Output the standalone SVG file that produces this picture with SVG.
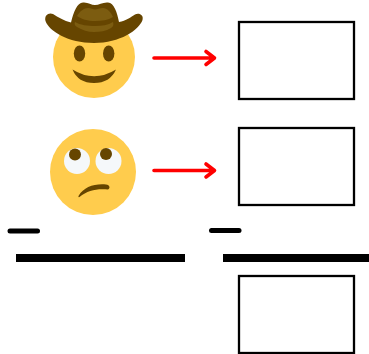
<svg xmlns="http://www.w3.org/2000/svg" width="369" height="354" viewBox="0 0 369 354">
<style>
.box{fill:#fff;stroke:#000;stroke-width:2.3}
.arrow{fill:none;stroke:#f00;stroke-width:3.6;stroke-linecap:round;stroke-linejoin:round}
.dash{fill:none;stroke:#000;stroke-width:5;stroke-linecap:round}
.bar{fill:#000}
.face{fill:#ffcc4d}
.dark{fill:#664500}
</style>
<rect width="369" height="354" fill="#fff"/>
<g id="cowboy">
<circle class="face" cx="94" cy="57" r="41"/>
<ellipse class="dark" cx="79.500" cy="53.500" rx="5.700" ry="8"/>
<ellipse class="dark" cx="108.700" cy="53.500" rx="5.700" ry="8"/>
<path class="dark" d="M72.500 69.500Q94 83 116 69.500Q110 83 94 83Q78 83 72.500 69.500Z"/>
<path class="dark" d="M71 22.500C74 11 77 3 83 2.500C88 2 91 5 95 5C99 5 103 2 108 2.500C114 3 117 12 119 22C126 21 131 17 135 14.500C139 12.500 144 15 142.500 20C139 30 120 43 94 43C68 43 49 31 45.500 21C44 15 49 12 53 14C58 17 64 21 71 22.500Z"/>
<path d="M77 16C80 11 84 8 88 8C91 8 93 9.500 95 9.500C97 9.500 100 8 103 8C107 8 111 12 113 17C108 20 102 21 95 21C88 21 81 19 77 16Z" fill="#7c5c10"/>
<path d="M75 22C80 25 88 26 95 26C102 26 108 25 113 22C114 25 113 27 111 28C106 31 100 32 94 32C88 32 82 30 77 27C75 26 74 24 75 22Z" fill="#7c5c10"/>
</g>
<g id="rolling-eyes">
<circle class="face" cx="93" cy="172" r="43"/>
<circle cx="77" cy="161" r="13" fill="#f5f8fa"/>
<circle cx="108.500" cy="161" r="13" fill="#f5f8fa"/>
<circle class="dark" cx="75" cy="154.500" r="6"/>
<circle class="dark" cx="106" cy="154" r="6"/>
<path class="dark" d="M78.500 196C84 187 94 183.500 106 184.500C110 185 110.500 188.500 108 189.500C97 188.500 88 190 79.500 197Q78 197.500 78.500 196Z"/>
</g>
<g id="box-1"><rect class="box" x="239" y="22" width="115" height="77"/></g>
<g id="box-2"><rect class="box" x="239" y="128" width="115" height="77"/></g>
<g id="box-3"><rect class="box" x="239" y="276" width="115" height="77"/></g>
<g id="dash-1"><path class="dash" d="M10 231H37.500"/></g>
<g id="dash-2"><path class="dash" d="M211.500 230.500H239"/></g>
<g id="bar-1"><rect class="bar" x="16" y="254" width="169" height="8"/></g>
<g id="bar-2"><rect class="bar" x="223" y="254" width="146" height="8"/></g>
<g id="connectors">
<path class="arrow" d="M154 58H214M206 51.500L214.500 58L206 64.500"/>
<path class="arrow" d="M154 170.500H214M206 164L214.500 170.500L206 177"/>
</g>
</svg>
